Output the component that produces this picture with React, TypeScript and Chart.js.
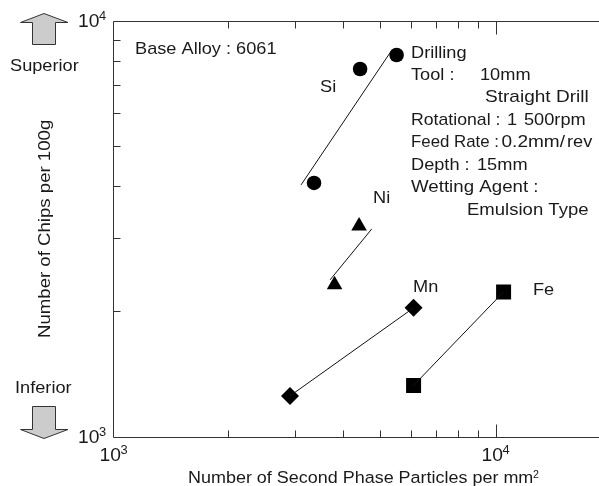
import React, { useEffect, useRef } from "react";
import { Chart, registerables } from "chart.js";

Chart.register(...registerables);

const FONT = '"Liberation Sans", Arial, sans-serif';
const SX = 1.07;

const siPointsX = [3358, 4429, 5516];
const siPointsY = [4069, 7646, 8263];
const siLineX = [3106, 5304];
const siLineY = [4025, 8368];
const niPointsX = [3799, 4402];
const niPointsY = [2315, 3208];
const niLineX = [3698, 4752];
const niLineY = [2380, 3155];
const mnPointsX = [2906, 6109];
const mnPointsY = [1252, 2038];
const fePointsX = [6109, 10493];
const fePointsY = [1327, 2226];

const xMin = 1000;
const xMax = 18620;
const yMin = 1000;
const yMax = 10000;
const xTicks = [2000, 3000, 4000, 5000, 6000, 7000, 8000, 9000, 10000];
const yTicks = [2000, 3000, 4000, 5000, 6000, 7000, 8000, 9000];

const notes: [string, number, number, number?][] = [
  ["Base Alloy : 6061", 135, 54],
  ["Superior", 10, 71],
  ["Inferior", 15, 393],
  ["Si", 320, 92],
  ["Ni", 373, 203],
  ["Mn", 413, 292],
  ["Fe", 533, 295],
  ["Drilling", 411, 58],
  ["Tool :", 411, 80],
  ["10mm", 480, 80],
  ["Straight Drill", 485, 102, 1.12],
  ["Rotational :", 411, 125, 1.04],
  ["1", 507, 125],
  ["500rpm", 524, 125],
  ["Feed Rate :", 411, 147, 0.99],
  ["0.2mm/", 501.5, 147, 1.12],
  ["rev", 567, 147],
  ["Depth :", 411, 170],
  ["15mm", 477, 170],
  ["Wetting Agent :", 411, 192, 1.1],
  ["Emulsion Type", 467, 215, 1.09],
];

const pair = (xs: number[], ys: number[]) => xs.map((x, i) => ({ x, y: ys[i] }));

function text(ctx: CanvasRenderingContext2D, s: string, x: number, y: number, size = 17, sx = SX) {
  ctx.save();
  ctx.translate(x, y);
  ctx.scale(sx, 1);
  ctx.font = `${size}px ${FONT}`;
  ctx.fillStyle = "#1a1a1a";
  ctx.textAlign = "left";
  ctx.textBaseline = "alphabetic";
  ctx.fillText(s, 0, 0);
  ctx.restore();
}

function power(ctx: CanvasRenderingContext2D, exp: string, x: number, y: number) {
  text(ctx, "10", x, y, 18);
  text(ctx, exp, x + 21, y - 7, 12);
}

const decorPlugin = {
  id: "decor",
  afterDatasetsDraw(chart: any) {
    const { ctx, chartArea: a, scales } = chart;
    const sx = scales.x;
    const sy = scales.y;
    ctx.save();
    ctx.strokeStyle = "#333";
    ctx.lineWidth = 1;
    const seg = (x1: number, y1: number, x2: number, y2: number) => {
      ctx.beginPath();
      ctx.moveTo(Math.round(x1) + 0.5, Math.round(y1) + 0.5);
      ctx.lineTo(Math.round(x2) + 0.5, Math.round(y2) + 0.5);
      ctx.stroke();
    };
    seg(a.left, a.top, a.right, a.top);
    seg(a.left, a.bottom, a.right, a.bottom);
    seg(a.left, a.top, a.left, a.bottom);
    for (const v of xTicks) {
      const p = sx.getPixelForValue(v);
      const len = v === 10000 ? 13 : 7;
      seg(p, a.top, p, a.top + len);
      seg(p, a.bottom, p, a.bottom - len);
    }
    for (const v of yTicks) {
      const p = sy.getPixelForValue(v);
      seg(a.left, p, a.left + 7, p);
    }
    ctx.restore();

    power(ctx, "4", 78, 27);
    power(ctx, "3", 78, 443);
    power(ctx, "3", sx.getPixelForValue(1000) - 13, 461);
    power(ctx, "4", sx.getPixelForValue(10000) - 14, 461);

    for (const [s, x, y, f] of notes) text(ctx, s, x, y, 17, f ?? SX);

    text(ctx, "Number of Second Phase Particles per mm", 188, 483, 16.8);
    text(ctx, "2", 533, 478, 10);
    ctx.save();
    ctx.translate(50, 338);
    ctx.rotate(-Math.PI / 2);
    text(ctx, "Number of Chips per 100g", 0, 0, 17.4);
    ctx.restore();

    const arrow = (pts: number[][]) => {
      ctx.beginPath();
      pts.forEach(([x, y], i) => (i ? ctx.lineTo(x, y) : ctx.moveTo(x, y)));
      ctx.closePath();
      ctx.fillStyle = "#cccccc";
      ctx.strokeStyle = "#333";
      ctx.lineWidth = 1;
      ctx.fill();
      ctx.stroke();
    };
    arrow([[44, 13.5], [20.5, 22.5], [32.5, 22.5], [32.5, 44.5], [55.5, 44.5], [55.5, 22.5], [68, 22.5]]);
    arrow([[44, 438.5], [20.5, 429.5], [32.5, 429.5], [32.5, 406.5], [55.5, 406.5], [55.5, 429.5], [68, 429.5]]);
  },
};

export default function App() {
  const ref = useRef<HTMLCanvasElement>(null);
  useEffect(() => {
    document.body.style.margin = "0";
    const line = (xs: number[], ys: number[]) => ({
      data: pair(xs, ys),
      showLine: true,
      borderColor: "#111",
      borderWidth: 1,
      pointRadius: 0,
    });
    const marks = (xs: number[], ys: number[], pointStyle: string, pointRadius: number) => ({
      data: pair(xs, ys),
      showLine: false,
      pointStyle,
      pointRadius,
      pointBackgroundColor: "#000",
      pointBorderColor: "#000",
      pointBorderWidth: 0,
    });
    const chart = new Chart(ref.current!, {
      type: "scatter",
      data: {
        datasets: [
          line(siLineX, siLineY),
          line(niLineX, niLineY),
          line(mnPointsX, mnPointsY),
          line(fePointsX, fePointsY),
          marks(siPointsX, siPointsY, "circle", 7.3),
          marks(niPointsX, niPointsY, "triangle", 9),
          marks(mnPointsX, mnPointsY, "rectRot", 9),
          marks(fePointsX, fePointsY, "rect", 10.6),
        ] as any,
      },
      options: {
        animation: false,
        responsive: false,
        plugins: { legend: { display: false }, tooltip: { enabled: false } },
        layout: { autoPadding: false, padding: { top: 20.5, right: 0, bottom: 0, left: 0 } },
        scales: {
          x: {
            type: "logarithmic",
            min: xMin,
            max: xMax,
            grid: { display: false },
            border: { display: false },
            ticks: { display: false },
            afterFit: (s: any) => { s.height = 49.5; },
          },
          y: {
            type: "logarithmic",
            min: yMin,
            max: yMax,
            grid: { display: false },
            border: { display: false },
            ticks: { display: false },
            afterFit: (s: any) => { s.width = 112.5; },
          },
        },
      },
      plugins: [decorPlugin],
    } as any);
    return () => chart.destroy();
  }, []);
  return <canvas ref={ref} width={599} height={486} style={{ display: "block" }} />;
}
